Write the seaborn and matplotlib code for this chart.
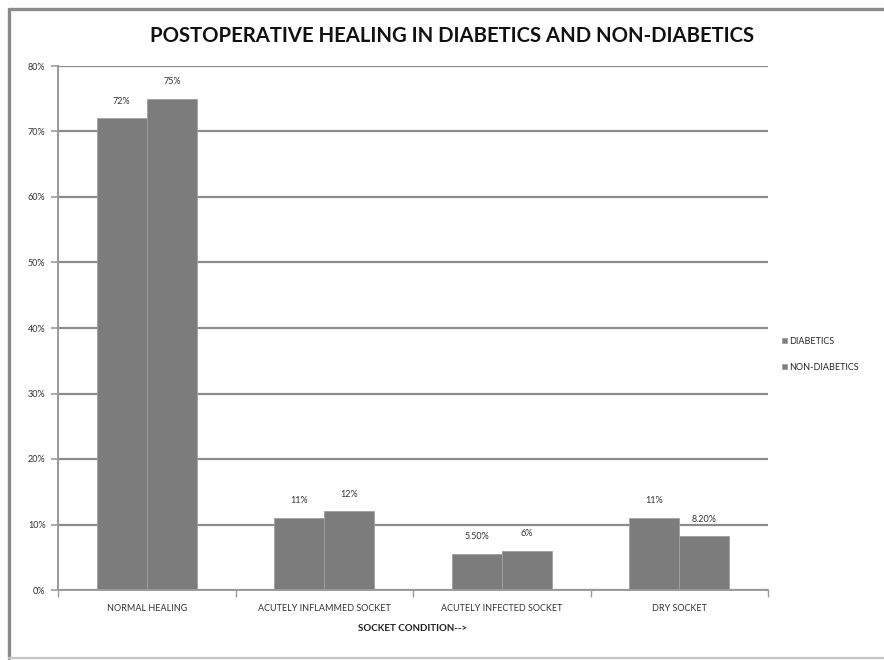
import matplotlib
matplotlib.use("Agg")
import matplotlib.pyplot as plt
from matplotlib.lines import Line2D
from matplotlib.ticker import FixedLocator
import seaborn as sns
import pandas as pd

conditions = ["NORMAL HEALING", "ACUTELY INFLAMMED SOCKET", "ACUTELY INFECTED SOCKET", "DRY SOCKET"]
groups = ["DIABETICS", "NON-DIABETICS"]
diabetics = [72, 11, 5.5, 11]
non_diabetics = [75, 12, 6, 8.2]
diabetics_labels = ["72%", "11%", "5.50%", "11%"]
non_diabetics_labels = ["75%", "12%", "6%", "8.20%"]
y_ticks = [0, 10, 20, 30, 40, 50, 60, 70, 80]
y_tick_labels = ["0%", "10%", "20%", "30%", "40%", "50%", "60%", "70%", "80%"]

df = pd.DataFrame({
    "condition": conditions * 2,
    "group": [groups[0]] * 4 + [groups[1]] * 4,
    "value": diabetics + non_diabetics,
})

sns.set_theme(style="white")
plt.rcParams["font.family"] = ["Lato", "DejaVu Sans"]

fig = plt.figure(figsize=(8.84, 6.6), dpi=100)
fig.patch.set_facecolor("white")

# outer chart frame: darker top/left edges, faint bottom edge
W, H = 884, 660
fig.add_artist(Line2D([9 / W, 1.0], [651 / H, 651 / H], transform=fig.transFigure,
                      color="#8a8a8a", linewidth=2.4))
fig.add_artist(Line2D([9 / W, 9 / W], [2 / H, 651 / H], transform=fig.transFigure,
                      color="#8a8a8a", linewidth=2.4))
fig.add_artist(Line2D([9 / W, 1.0], [2 / H, 2 / H], transform=fig.transFigure,
                      color="#c4c4c4", linewidth=1.6))

ax = fig.add_axes([58 / W, 70 / H, 710 / W, 524 / H])
bar_gray = "#7c7c7c"
sns.barplot(data=df, x="condition", y="value", hue="group", order=conditions,
            hue_order=groups, palette=[bar_gray, bar_gray], width=0.565,
            edgecolor="#a0a0a0", linewidth=0.6, ax=ax, legend=True)

ax.set_ylim(0, 80)
ax.set_xlim(-0.5, 3.5)
ax.set_yticks(y_ticks)
ax.set_yticklabels(y_tick_labels, fontsize=6.5, color="#333333")
ax.yaxis.grid(True, color="#8c8c8c", linewidth=1.6)
ax.set_axisbelow(True)

for s in ["top", "right"]:
    ax.spines[s].set_visible(False)
for s in ["left", "bottom"]:
    ax.spines[s].set_color("#9a9a9a")
    ax.spines[s].set_linewidth(1.4)

ax.tick_params(axis="y", length=5, width=1.2, color="#9a9a9a", pad=4, left=True)
ax.tick_params(axis="x", which="major", length=0, labelsize=6.5, labelcolor="#333333", pad=10)
ax.xaxis.set_minor_locator(FixedLocator([-0.5, 0.5, 1.5, 2.5, 3.5]))
ax.tick_params(axis="x", which="minor", length=5, width=1, color="#9a9a9a", bottom=True)

ax.set_xlabel("SOCKET CONDITION-->", fontsize=7, fontweight="bold", color="#222222", labelpad=8)
ax.set_ylabel("")

for cont, labels in zip(ax.containers, [diabetics_labels, non_diabetics_labels]):
    ax.bar_label(cont, labels=labels, padding=9, fontsize=6.5, color="#333333")

ax.legend(loc="center left", bbox_to_anchor=(1.014, 0.45), frameon=False,
          fontsize=6.5, handlelength=0.6, handleheight=0.6, handletextpad=0.2,
          labelspacing=1.9, borderaxespad=0)

fig.text(0.511, 0.945, "POSTOPERATIVE HEALING IN DIABETICS AND NON-DIABETICS",
         ha="center", va="center", fontsize=14.6, fontweight="bold", color="#111111")

fig.savefig("out.png", dpi=100, facecolor="white")
